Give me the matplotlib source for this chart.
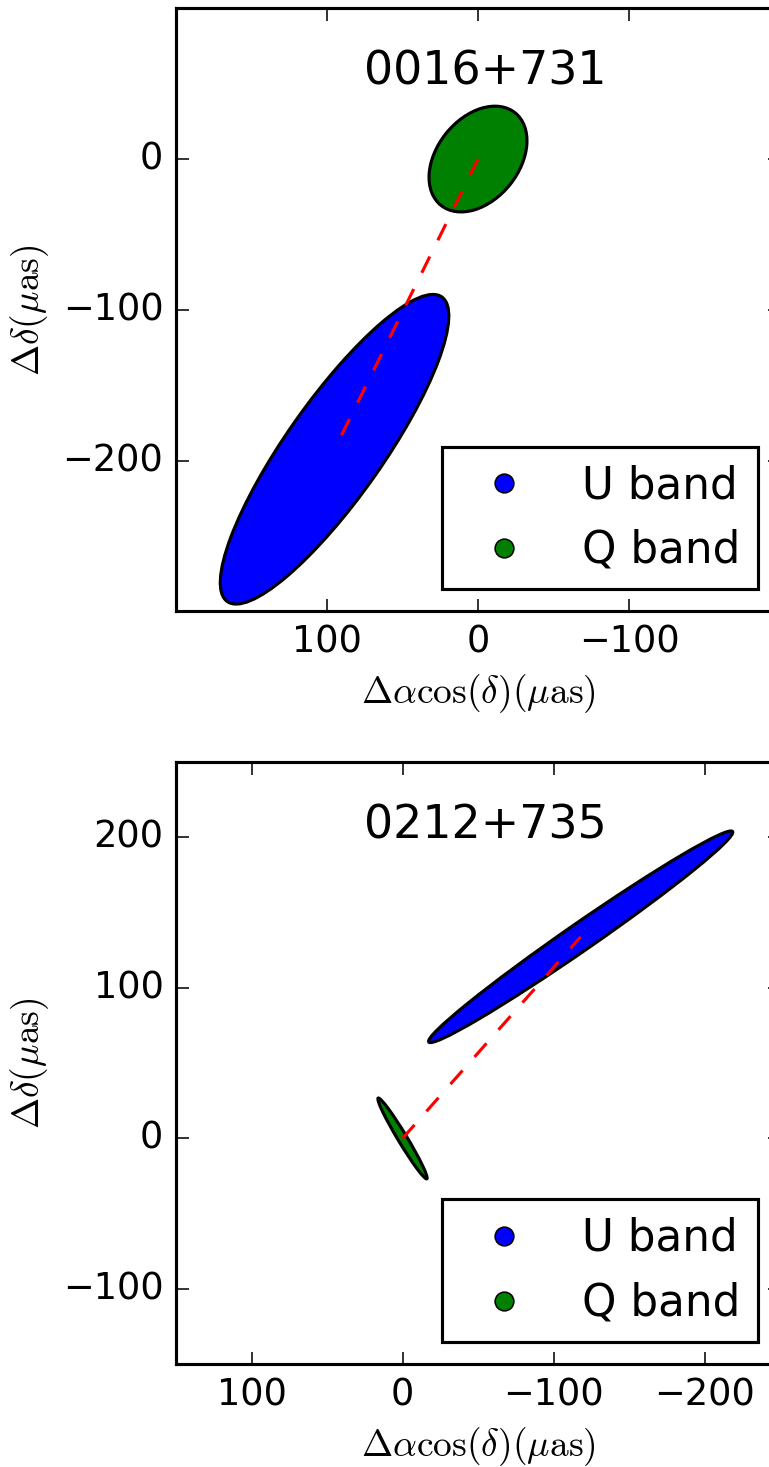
import matplotlib
matplotlib.use("Agg")
import matplotlib.pyplot as plt
from matplotlib.patches import Ellipse
from matplotlib.lines import Line2D

plt.style.use("classic")
S = 2.25
plt.rcParams.update({
    "font.size": 12 * S,
    "xtick.labelsize": 26.5, "ytick.labelsize": 26.5,
    "axes.linewidth": 1.0 * S,
    "lines.linewidth": 1.0 * S,
    "patch.linewidth": 1.0 * S,
    "xtick.major.size": 4 * S, "ytick.major.size": 4 * S,
    "xtick.major.width": 0.5 * S, "ytick.major.width": 0.5 * S,
    "xtick.major.pad": 4 * S, "ytick.major.pad": 4 * S,
    "axes.labelpad": 8.5,
    "lines.markersize": 6 * S,
    "lines.markeredgewidth": 0.5 * S,
    "lines.scale_dashes": True,
    "mathtext.fontset": "cm",
    "figure.facecolor": "white",
    "savefig.facecolor": "white",
})

# ---- data ----
sources = ["0016+731", "0212+735"]
bands = ["U band", "Q band"]
band_colors = ["b", "g"]

# ellipse centres (uas): [U, Q]
cen_x = [[95.0, 0.0], [-118.0, 0.0]]
cen_y = [[-192.5, 0.0], [134.0, 0.0]]
# full widths / heights (uas) and angles (deg, data frame)
ell_w = [[247.0, 78.6], [245.0, 62.5]]
ell_h = [[64.0, 54.3], [18.0, 6.0]]
ell_ang = [[125.1, 128.6], [145.2, 59.0]]

xlims = [(200, -200), (150, -250)]
ylims = [(-300, 100), (-150, 250)]
xticks = [[100, 0, -100], [100, 0, -100, -200]]
yticks = [[0, -100, -200], [200, 100, 0, -100]]

W, H = 769, 1467
fig = plt.figure(figsize=(W / 100, H / 100), dpi=100)

axes_rect = [
    [176 / W, (H - 611.3) / H, 604 / W, 603 / H],
    [176 / W, (H - 1364.2) / H, 604 / W, 602 / H],
]

for i, src in enumerate(sources):
    ax = fig.add_axes(axes_rect[i])
    for j in range(2):
        e = Ellipse((cen_x[i][j], cen_y[i][j]), ell_w[i][j], ell_h[i][j],
                    angle=ell_ang[i][j], facecolor=band_colors[j],
                    edgecolor="k", zorder=2)
        ax.add_patch(e)
    ax.plot([cen_x[i][1], cen_x[i][0]], [cen_y[i][1], cen_y[i][0]],
            color="r", linestyle=(0, (5.8, 5.8)), zorder=3)
    ax.set_xlim(*xlims[i])
    ax.set_ylim(*ylims[i])
    ax.set_xticks(xticks[i])
    ax.set_yticks(yticks[i])
    ax.set_xlabel(r"$\Delta\alpha\cos(\delta)(\mu\mathrm{as})$")
    ax.set_ylabel(r"$\Delta\delta(\mu\mathrm{as})$")
    ax.text(0.512, 0.874, src, transform=ax.transAxes, ha="center",
            va="baseline", fontsize=33)
    handles = [Line2D([], [], linestyle="none", marker="o",
                      markerfacecolor=c, markeredgecolor="k") for c in band_colors]
    ax.legend(handles, bands, loc="lower right", numpoints=1,
              fontsize=31.5)

fig.savefig("out.png", dpi=100)
